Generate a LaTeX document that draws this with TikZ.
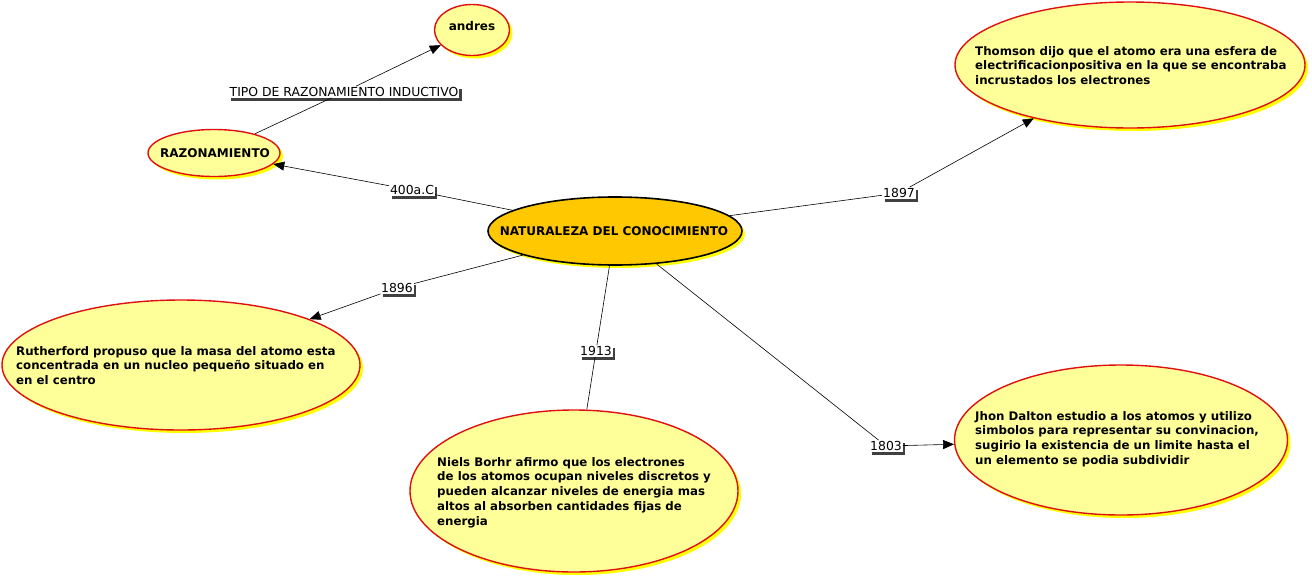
\documentclass[tikz,border=0pt]{standalone}
\usepackage{fontspec}
\setmainfont{DejaVu Sans}
\usetikzlibrary{shapes.geometric,shadows,arrows.meta}
\definecolor{pale}{HTML}{FFFF99}
\definecolor{rim}{HTML}{E01010}
\definecolor{gold}{HTML}{FFC800}
\definecolor{shade}{HTML}{FFFF00}
\tikzset{
  bubble/.style={ellipse, draw=rim, line width=1.4pt, fill=pale, inner sep=0pt,
    general shadow={fill=shade, shadow xshift=3pt, shadow yshift=-3pt}},
  core/.style={ellipse, draw=black, line width=1.6pt, fill=gold, inner sep=0pt,
    general shadow={fill=shade, shadow xshift=3pt, shadow yshift=-3pt}},
  btxt/.style={anchor=north west, align=left, font=\bfseries\fontsize{11.8}{14.8}\selectfont, inner sep=0pt},
  ttl/.style={font=\bfseries\fontsize{12}{14}\selectfont, inner sep=0pt},
  lbl/.style={fill=white, inner sep=1pt, font=\fontsize{12.4}{14}\selectfont,
    general shadow={fill=black!75, shadow xshift=2.5pt, shadow yshift=-3pt}},
  link/.style={draw=black, line width=0.6pt},
  arr/.style={link, -{Triangle[length=11pt,width=9pt]}}
}
\begin{document}
\begin{tikzpicture}[x=1pt,y=-1pt]
\useasboundingbox (0,0) rectangle (1312,579);
% ellipses
\node[bubble, minimum width=75pt, minimum height=51pt] (andres) at (472,30) {};
\node[ttl] at (472,26) {andres};
\node[bubble, minimum width=132pt, minimum height=47pt] (raz) at (214,153) {};
\node[ttl] at (215,153) {RAZONAMIENTO};
\node[core, minimum width=254pt, minimum height=68pt] (nat) at (615,231) {};
\node[ttl] at (614,231) {NATURALEZA DEL CONOCIMIENTO};
\node[bubble, minimum width=350pt, minimum height=126pt] (thom) at (1130,65) {};
\node[btxt] at (975,46) {Thomson dijo que el atomo era una esfera de\\electrificacionpositiva en la que se encontraba\\incrustados los electrones};
\node[bubble, minimum width=358pt, minimum height=130pt] (ruth) at (181,365) {};
\node[btxt] at (16,346) {Rutherford propuso que la masa del atomo esta\\concentrada en un nucleo pequeño situado en\\en el centro};
\node[bubble, minimum width=328pt, minimum height=162pt] (niels) at (574,491) {};
\node[btxt] at (437,457) {Niels Borhr afirmo que los electrones\\de los atomos ocupan niveles discretos y\\pueden alcanzar niveles de energia mas\\altos al absorben cantidades fijas de\\energia};
\node[bubble, minimum width=333pt, minimum height=150pt] (dalt) at (1121,440) {};
\node[btxt] at (975,411) {Jhon Dalton estudio a los atomos y utilizo\\simbolos para representar su convinacion,\\sugirio la existencia de un limite hasta el\\un elemento se podia subdividir};
% labels
\node[lbl] (ltipo) at (344,92) {TIPO DE RAZONAMIENTO INDUCTIVO};
\node[lbl] (l400) at (412,190) {400a.C};
\node[lbl] (l1897) at (899,193) {1897};
\node[lbl] (l1896) at (397,288) {1896};
\node[lbl] (l1913) at (596,351) {1913};
\node[lbl] (l1803) at (886,446) {1803};
% connectors
\draw[link] (raz) -- (ltipo);
\draw[arr] (ltipo) -- (andres);
\draw[link] (nat) -- (l400);
\draw[arr] (l400) -- (raz);
\draw[link] (nat) -- (l1897);
\draw[arr] (l1897) -- (thom);
\draw[link] (nat) -- (l1896);
\draw[arr] (l1896) -- (ruth);
\draw[link] (nat) -- (l1913);
\draw[link] (l1913) -- (niels);
\draw[link] (nat) -- (l1803);
\draw[arr] (l1803) -- (dalt);
\end{tikzpicture}
\end{document}
